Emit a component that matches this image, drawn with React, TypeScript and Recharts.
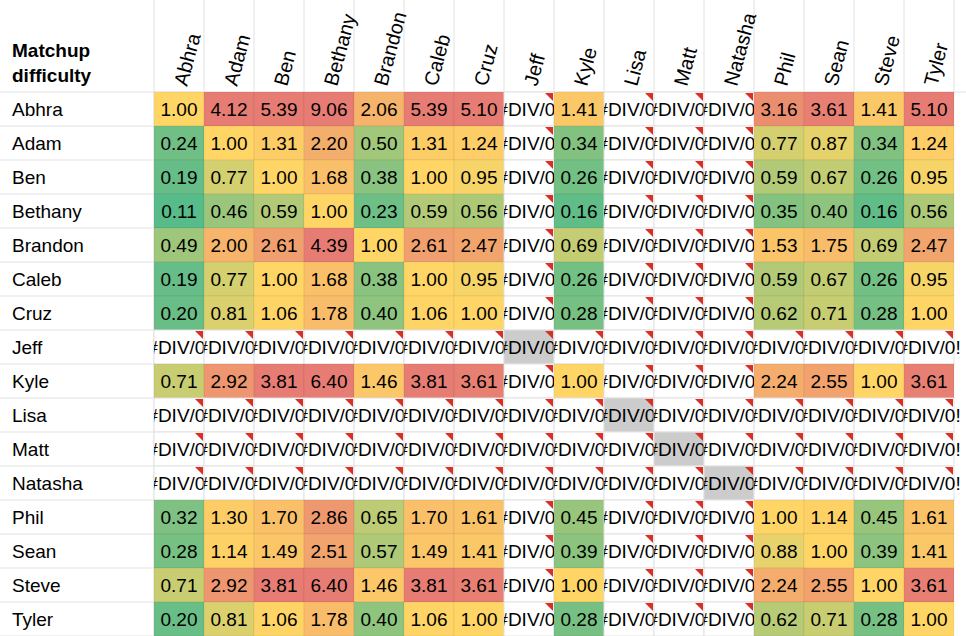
import React from 'react'
import { ScatterChart, Scatter, XAxis, YAxis } from 'recharts'

const players = ['Abhra', 'Adam', 'Ben', 'Bethany', 'Brandon', 'Caleb', 'Cruz', 'Jeff', 'Kyle', 'Lisa', 'Matt', 'Natasha', 'Phil', 'Sean', 'Steve', 'Tyler']

const E = null
const abhra = [1.0, 4.12, 5.39, 9.06, 2.06, 5.39, 5.1, E, 1.41, E, E, E, 3.16, 3.61, 1.41, 5.1]
const adam = [0.24, 1.0, 1.31, 2.2, 0.5, 1.31, 1.24, E, 0.34, E, E, E, 0.77, 0.87, 0.34, 1.24]
const ben = [0.19, 0.77, 1.0, 1.68, 0.38, 1.0, 0.95, E, 0.26, E, E, E, 0.59, 0.67, 0.26, 0.95]
const bethany = [0.11, 0.46, 0.59, 1.0, 0.23, 0.59, 0.56, E, 0.16, E, E, E, 0.35, 0.4, 0.16, 0.56]
const brandon = [0.49, 2.0, 2.61, 4.39, 1.0, 2.61, 2.47, E, 0.69, E, E, E, 1.53, 1.75, 0.69, 2.47]
const caleb = [0.19, 0.77, 1.0, 1.68, 0.38, 1.0, 0.95, E, 0.26, E, E, E, 0.59, 0.67, 0.26, 0.95]
const cruz = [0.2, 0.81, 1.06, 1.78, 0.4, 1.06, 1.0, E, 0.28, E, E, E, 0.62, 0.71, 0.28, 1.0]
const empty = players.map(() => E)
const kyle = [0.71, 2.92, 3.81, 6.4, 1.46, 3.81, 3.61, E, 1.0, E, E, E, 2.24, 2.55, 1.0, 3.61]
const phil = [0.32, 1.3, 1.7, 2.86, 0.65, 1.7, 1.61, E, 0.45, E, E, E, 1.0, 1.14, 0.45, 1.61]
const sean = [0.28, 1.14, 1.49, 2.51, 0.57, 1.49, 1.41, E, 0.39, E, E, E, 0.88, 1.0, 0.39, 1.41]
const steve = [0.71, 2.92, 3.81, 6.4, 1.46, 3.81, 3.61, E, 1.0, E, E, E, 2.24, 2.55, 1.0, 3.61]
const tyler = [0.2, 0.81, 1.06, 1.78, 0.4, 1.06, 1.0, E, 0.28, E, E, E, 0.62, 0.71, 0.28, 1.0]

const matrix = [abhra, adam, ben, bethany, brandon, caleb, cruz, empty, kyle, empty, empty, empty, phil, sean, steve, tyler]

const cells = matrix.flatMap((row, r) => row.map((v, c) => ({ x: c + 0.5, y: r + 0.5, r, c, v })))
const ticks = players.map((_, i) => i + 0.5)

const CW = 50
const CH = 34
const GRID = '#e2e2e2'
const FONT = 'Arial, "Liberation Sans", sans-serif'

function mix(a: number[], b: number[], t: number) {
  const k = Math.max(0, Math.min(1, t))
  return `rgb(${a.map((x, i) => Math.round(x + (b[i] - x) * k)).join(',')})`
}
const GREEN = [87, 187, 138]
const YELLOW = [255, 214, 102]
const RED = [230, 124, 115]
function colour(v: number) {
  if (v <= 1) return mix(GREEN, YELLOW, (v - 0.11) / 0.89)
  return mix(YELLOW, RED, (v - 1) / 2.7)
}

function Cell(props: any) {
  const { cx, cy, payload } = props
  const x = cx - CW / 2
  const y = cy - CH / 2
  const err = payload.v === null
  const diag = err && payload.r === payload.c
  const fill = err ? (diag ? '#cccccc' : '#ffffff') : colour(payload.v)
  const id = `clip-${payload.r}-${payload.c}`
  const last = payload.c === players.length - 1
  return (
    <g>
      <defs>
        <clipPath id={id}>
          <rect x={x} y={y} width={last ? CW + 20 : CW} height={CH} />
        </clipPath>
      </defs>
      <rect x={x} y={y} width={CW} height={CH} fill={fill} stroke={err ? GRID : 'rgba(0,0,0,0.06)'} />
      <text x={cx} y={cy + 7} textAnchor="middle" fontSize={19} fontFamily={FONT} fill="#000" clipPath={`url(#${id})`}>
        {err ? '#DIV/0!' : payload.v.toFixed(2)}
      </text>
      {err && <polygon points={`${x + CW - 9},${y + 1} ${x + CW - 1},${y + 1} ${x + CW - 1},${y + 9}`} fill="#d93025" />}
    </g>
  )
}

function ColTick(props: any) {
  const { x, index } = props
  return (
    <g>
      <line x1={x + CW / 2} y1={0} x2={x + CW / 2} y2={92} stroke={GRID} />
      <text transform={`translate(${x + 8},87) rotate(-75)`} fontSize={20} fontFamily={FONT} fill="#000">
        {players[index]}
      </text>
    </g>
  )
}

function RowTick(props: any) {
  const { y, index } = props
  return (
    <g>
      <line x1={0} y1={y + CH / 2} x2={154} y2={y + CH / 2} stroke={GRID} />
      <text x={12} y={y + 7} fontSize={19} fontFamily={FONT} fill="#000">
        {players[index]}
      </text>
    </g>
  )
}

export default function App() {
  return (
    <div style={{ position: 'fixed', left: 0, top: 0, width: 966, height: 636, background: '#fff' }}>
      <div style={{ position: 'absolute', left: 12, top: 38, fontFamily: FONT, fontWeight: 'bold', fontSize: 19, lineHeight: '25px' }}>
        Matchup<br />difficulty
      </div>
      <svg style={{ position: 'absolute', left: 0, top: 0 }} width={966} height={636}>
        <line x1={0} y1={92} x2={966} y2={92} stroke={GRID} />
        <line x1={154} y1={0} x2={154} y2={636} stroke={GRID} />
      </svg>
      <div style={{ position: 'absolute', left: 0, top: 0 }}>
        <ScatterChart width={966} height={636} margin={{ top: 0, right: 12, bottom: 0, left: 0 }}>
          <XAxis type="number" dataKey="x" orientation="top" domain={[0, 16]} ticks={ticks} height={92}
            axisLine={false} tickLine={false} tick={<ColTick />} interval={0} />
          <YAxis type="number" dataKey="y" domain={[0, 16]} reversed ticks={ticks} width={154}
            axisLine={false} tickLine={false} tick={<RowTick />} interval={0} />
          <Scatter data={cells} shape={<Cell />} isAnimationActive={false} />
        </ScatterChart>
      </div>
    </div>
  )
}
